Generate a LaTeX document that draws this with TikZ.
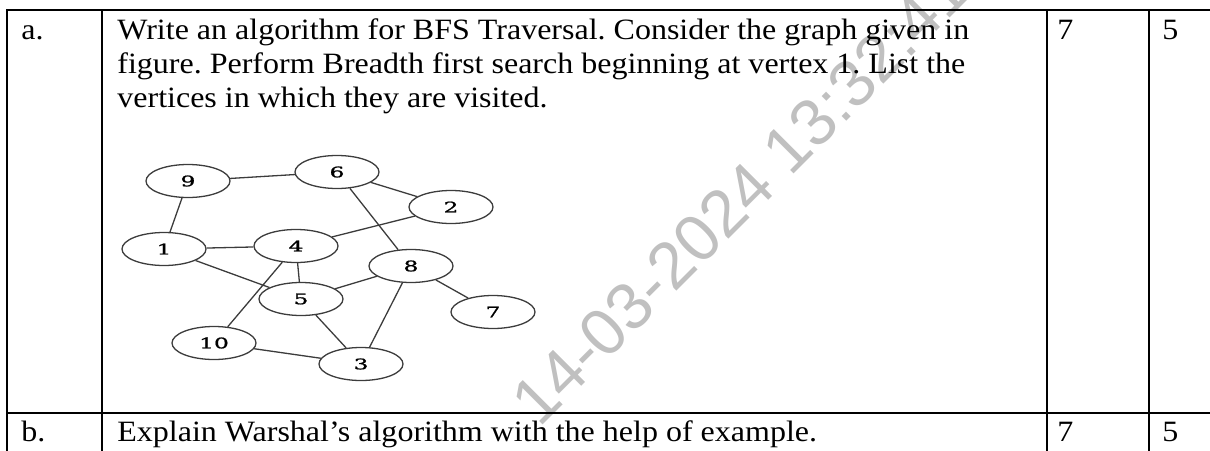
\documentclass[tikz,border=0pt]{standalone}
\usepackage{fontspec}
\setmainfont[FakeStretch=1.085]{Liberation Serif}
\newfontfamily\vtxfont[FakeStretch=1.6,FakeBold=1.2]{DejaVu Serif}
\newfontfamily\wmfont{Liberation Sans}
\usetikzlibrary{shapes.geometric}
\definecolor{wmgray}{RGB}{192,192,192}
\definecolor{edgegray}{RGB}{60,60,60}
\frenchspacing
\begin{document}
\begin{tikzpicture}[x=0.5pt,y=-0.5pt,
  vertex/.style={ellipse,draw=edgegray,line width=0.65pt,minimum width=42pt,minimum height=16.5pt,inner sep=0pt,font=\vtxfont\fontsize{7.3}{7.3}\selectfont},
  edge/.style={draw=edgegray,line width=0.65pt},
  body/.style={anchor=base west,inner sep=0pt,font=\fontsize{14.75}{17}\selectfont},
  tabline/.style={line width=1pt,line cap=rect}]
\useasboundingbox (0,0) rectangle (1210,450);
% watermark
\node[rotate=45,text=wmgray,font=\wmfont\fontsize{33}{33}\selectfont] (wm) at (740,196) {14-03-2024 13:32:41};
% table
\draw[tabline] (7,10) -- (1215,10);
\draw[tabline] (7,412.5) -- (1215,412.5);
\foreach \x in {7,101.5,1047,1149} \draw[tabline] (\x,10) -- (\x,455);
% row a
\node[body] (la) at (21,39) {a.};
\node[body] (qa1) at (117,39) {Write an algorithm for BFS Traversal. Consider the graph given in};
\node[body] (qa2) at (117,73) {figure. Perform Breadth first search beginning at vertex 1. List the};
\node[body] (qa3) at (117,107) {vertices in which they are visited.};
\node[body] (ma) at (1057,39) {7};
\node[body] (ca) at (1162,39) {5};
% graph
\node[vertex] (v9) at (188,181) {9};
\node[vertex] (v6) at (337,172) {6};
\node[vertex] (v2) at (451,207) {2};
\node[vertex] (v1) at (164,249) {1};
\node[vertex] (v4) at (296,246) {4};
\node[vertex] (v8) at (411,266) {8};
\node[vertex] (v5) at (301,299) {5};
\node[vertex] (v7) at (493,312) {7};
\node[vertex] (v10) at (214,343) {10};
\node[vertex] (v3) at (361,364) {3};
\draw[edge] (v9) -- (v6) (v9) -- (v1) (v6) -- (v2) (v6) -- (v8)
  (v2) -- (v4) (v1) -- (v4) (v1) -- (v5) (v4) -- (v5) (v4) -- (v10)
  (v8) -- (v5) (v8) -- (v7) (v8) -- (v3) (v5) -- (v3) (v10) -- (v3);
% row b
\node[body] (lb) at (21,441) {b.};
\node[body] (qb) at (117,441) {Explain Warshal’s algorithm with the help of example.};
\node[body] (mb) at (1057,441) {7};
\node[body] (cb) at (1162,441) {5};
\end{tikzpicture}
\end{document}
